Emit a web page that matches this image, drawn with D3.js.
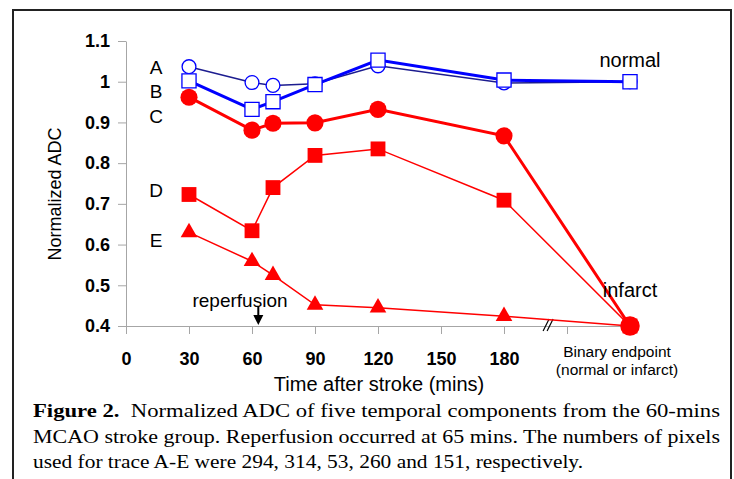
<!DOCTYPE html>
<html>
<head>
<meta charset="utf-8">
<script src="https://cdn.jsdelivr.net/npm/d3@7"></script>
<style>
  body { margin: 0; background: #fff; }
  svg { display: block; }
</style>
</head>
<body>
<svg id="chart" width="734" height="479"></svg>
<script>
// time points (mins); 240 stands for the binary endpoint
const times = [30, 60, 70, 90, 120, 180, 240];
const traceA = [1.037, 0.998, 0.991, 0.995, 1.039, 0.997, 1.0];
const traceB = [1.002, 0.932, 0.951, 0.993, 1.053, 1.004, 1.0];
const traceC = [0.962, 0.881, 0.898, 0.899, 0.932, 0.867, 0.4];
const traceD = [0.723, 0.634, 0.740, 0.819, 0.835, 0.709, 0.4];
const traceE = [0.630, 0.559, 0.525, 0.452, 0.445, 0.424, 0.4];
const traceNames = ["A", "B", "C", "D", "E"];
const xTicks = [0, 30, 60, 90, 120, 150, 180, 210];
const yTicks = [0.4, 0.5, 0.6, 0.7, 0.8, 0.9, 1.0, 1.1];
const reperfusionTime = 63;
const captionLines = [
  "Normalized ADC of five temporal components from the 60-mins",
  "MCAO stroke group. Reperfusion occurred at 65 mins. The numbers of pixels",
  "used for trace A-E were 294, 314, 53, 260 and 151, respectively."
];

let svg = d3.select("#chart");
let sans = "'Liberation Sans', Arial, sans-serif";
let serif = "'Liberation Serif', 'Times New Roman', serif";
let axisGrey = "#a6a6a6";

svg.append("rect").attr("width", 734).attr("height", 479).attr("fill", "#fff");
// figure frame
svg.append("rect")
  .attr("x", 13).attr("y", 10).attr("width", 718).attr("height", 490)
  .attr("fill", "none").attr("stroke", "#222").attr("stroke-width", 2);

let x = d3.scaleLinear().domain([0, 240]).range([126, 630]);
let y = d3.scaleLinear().domain([0.4, 1.1]).range([326, 41]);

// y axis
let yAxis = svg.append("g")
  .attr("transform", "translate(126,0)")
  .call(d3.axisLeft(y).tickValues(yTicks).tickSize(8).tickSizeOuter(0).tickPadding(8)
    .tickFormat(function(d) { return d === 1 ? "1" : d3.format(".1f")(d); }));
yAxis.selectAll("path, line").attr("stroke", axisGrey);
yAxis.selectAll("text")
  .style("font-family", sans).style("font-weight", "bold")
  .style("font-size", "18px").attr("fill", "#000");

// x axis
let xAxis = svg.append("g")
  .attr("transform", "translate(0,326)")
  .call(d3.axisBottom(x).tickValues(xTicks).tickSize(8).tickSizeOuter(0).tickPadding(18)
    .tickFormat(function(d) { return d <= 180 ? d : ""; }));
xAxis.selectAll("path, line").attr("stroke", axisGrey);
xAxis.selectAll("text")
  .style("font-family", sans).style("font-weight", "bold")
  .style("font-size", "18px").attr("fill", "#000");

// axis break mark
let breakX = x(201);
[-2, 2].forEach(function(o) {
  svg.append("line")
    .attr("x1", breakX + o - 3).attr("y1", 331)
    .attr("x2", breakX + o + 3).attr("y2", 319)
    .attr("stroke", "#000").attr("stroke-width", 1.2);
});

// axis titles
svg.append("text")
  .attr("x", 379).attr("y", 391)
  .attr("text-anchor", "middle")
  .style("font-family", sans).style("font-size", "20px")
  .text("Time after stroke (mins)");
svg.append("text")
  .attr("transform", "translate(61,194) rotate(-90)")
  .attr("text-anchor", "middle")
  .style("font-family", sans).style("font-size", "18px")
  .text("Normalized ADC");
svg.append("text")
  .attr("x", x(240) - 13).attr("y", 357)
  .attr("text-anchor", "middle")
  .style("font-family", sans).style("font-size", "15.5px")
  .text("Binary endpoint");
svg.append("text")
  .attr("x", x(240) - 13).attr("y", 375)
  .attr("text-anchor", "middle")
  .style("font-family", sans).style("font-size", "15.5px")
  .text("(normal or infarct)");

// traces
let traces = [
  { values: traceA, line: "#1c1c8f", width: 1.5, symbol: d3.symbolCircle, size: 150, fill: "#fff", stroke: "#0000ff" },
  { values: traceB, line: "#0000ff", width: 3, symbol: d3.symbolSquare, size: 200, fill: "#fff", stroke: "#0000ff" },
  { values: traceE, line: "#ff0000", width: 1.5, symbol: d3.symbolTriangle, size: 120, fill: "#ff0000", stroke: "none" },
  { values: traceD, line: "#ff0000", width: 1.5, symbol: d3.symbolSquare, size: 220, fill: "#ff0000", stroke: "none" },
  { values: traceC, line: "#ff0000", width: 3, symbol: d3.symbolCircle, size: 230, fill: "#ff0000", stroke: "none" }
];

let line = d3.line()
  .x(function(d, i) { return x(times[i]); })
  .y(function(d) { return y(d); });

traces.forEach(function(t) {
  svg.append("path")
    .datum(t.values)
    .attr("d", line)
    .attr("fill", "none")
    .attr("stroke", t.line)
    .attr("stroke-width", t.width);
  svg.selectAll(null)
    .data(t.values)
    .enter()
    .append("path")
      .attr("transform", function(d, i) { return "translate(" + x(times[i]) + "," + y(d) + ")"; })
      .attr("d", function(d, i) {
        let s = (t.values === traceC && i === times.length - 1) ? 300 : t.size;
        return d3.symbol().type(t.symbol).size(s)();
      })
      .attr("fill", t.fill)
      .attr("stroke", t.stroke)
      .attr("stroke-width", 1.3);
});

// trace labels A-E, stacked left of the 30-min points
let labelBaselines = [74, 98, 123, 197, 247];
traceNames.forEach(function(name, i) {
  svg.append("text")
    .attr("x", x(times[0]) - 33).attr("y", labelBaselines[i])
    .attr("text-anchor", "middle")
    .style("font-family", sans).style("font-size", "19px")
    .text(name);
});

svg.append("text")
  .attr("x", x(240)).attr("y", 67)
  .attr("text-anchor", "middle")
  .style("font-family", sans).style("font-size", "20px")
  .text("normal");
svg.append("text")
  .attr("x", x(240)).attr("y", 297)
  .attr("text-anchor", "middle")
  .style("font-family", sans).style("font-size", "20px")
  .text("infarct");

// reperfusion marker
let rx = x(reperfusionTime);
svg.append("text")
  .attr("x", 240).attr("y", 307)
  .attr("text-anchor", "middle")
  .style("font-family", sans).style("font-size", "19px")
  .text("reperfusion");
svg.append("line")
  .attr("x1", rx).attr("y1", 306)
  .attr("x2", rx).attr("y2", 318)
  .attr("stroke", "#000").attr("stroke-width", 2);
svg.append("path")
  .attr("d", "M" + (rx - 5) + ",315 L" + (rx + 5) + ",315 L" + rx + ",325 Z")
  .attr("fill", "#000");

// caption (stretched to the justified widths of the printed figure)
let captionWidths = [687, 687, 550];
let captionBaselines = [417, 443, 468];
let cap = svg.append("text")
  .attr("x", 33).attr("y", captionBaselines[0])
  .attr("textLength", captionWidths[0]).attr("lengthAdjust", "spacingAndGlyphs")
  .style("font-family", serif).style("font-size", "18.5px");
cap.append("tspan").style("font-weight", "bold").text("Figure 2.");
cap.append("tspan").text("\u00a0 " + captionLines[0]);
[1, 2].forEach(function(i) {
  svg.append("text")
    .attr("x", 33).attr("y", captionBaselines[i])
    .attr("textLength", captionWidths[i]).attr("lengthAdjust", "spacingAndGlyphs")
    .style("font-family", serif).style("font-size", "18.5px")
    .text(captionLines[i]);
});
</script>
</body>
</html>
